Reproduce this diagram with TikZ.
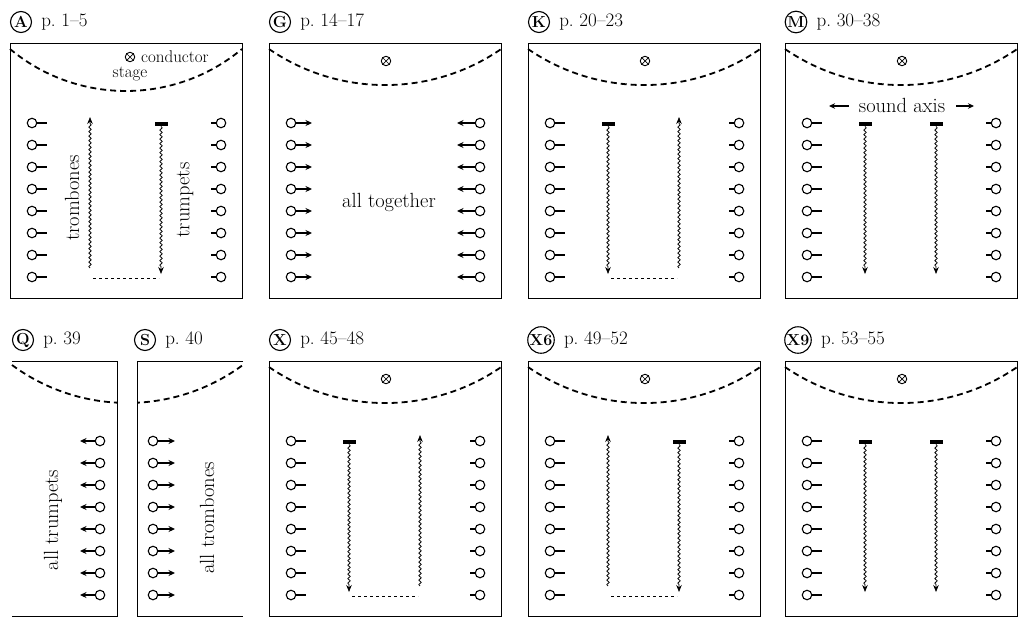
\documentclass[tikz,border=0pt]{standalone}
\usetikzlibrary{arrows.meta,decorations.pathmorphing}
\tikzset{
 boxframe/.style={line width=0.8pt},
 stagearc/.style={line width=1.8pt, dash pattern=on 6pt off 4pt},
 instc/.style={circle, draw, line width=1.1pt, minimum size=9.5pt, inner sep=0pt},
 inststick/.style={line width=1.6pt},
 ptr/.style={line width=1.6pt, -{Stealth[length=6.5pt,width=6pt]}},
 sndwave/.style={line width=0.75pt, decorate, decoration={snake, amplitude=1.2pt, segment length=4.5pt, post length=6pt}, -{Stealth[length=7pt,width=5.5pt]}},
 sndbar/.style={fill=black, minimum width=13pt, minimum height=4.5pt, inner sep=0pt},
 botdash/.style={line width=0.7pt, dash pattern=on 3pt off 3pt},
 txt/.style={font=\fontsize{20.5}{23}\selectfont, inner sep=0pt},
 smalltxt/.style={font=\fontsize{17}{19}\selectfont, inner sep=0pt},
 ttl/.style={font=\fontsize{19}{21}\selectfont, inner sep=0pt, anchor=west},
 badge/.style={circle, draw, line width=1.1pt, inner sep=0.5pt, minimum size=21pt, font=\bfseries\fontsize{16}{16}\selectfont},
 otimes/.style={circle, draw, line width=0.9pt, minimum size=9.5pt, inner sep=0pt},
 axisarr/.style={line width=1.2pt, -{Stealth[length=6pt,width=5.5pt]}},
}
\newcommand{\instcol}[4]{\foreach \k in {0,...,7}{\node[instc] (#1\k) at (#2,80+22*\k) {}; \coordinate (#1e\k) at (#3,80+22*\k); \draw[#4] (#1\k) -- (#1e\k);}}
\newcommand{\sndDown}[2]{\node[sndbar] (#1) at (#2,81) {}; \coordinate (#1t) at (#2,231); \draw[sndwave] (#1.south) -- (#1t);}
\newcommand{\sndUp}[2]{\coordinate (#1s) at (#2,225); \coordinate (#1t) at (#2,74); \draw[sndwave] (#1s) -- (#1t);}
\newcommand{\condsym}[3]{\node[otimes] (#1) at (#2,#3) {}; \draw[line width=0.7pt] (#1.north west) -- (#1.south east) (#1.north east) -- (#1.south west);}
\newcommand{\paneltitle}[4]{\node[badge] (#1-badge) at (#2,-21) {#3}; \node[ttl] (#1-page) at ([xshift=9pt]#1-badge.east) {#4};}
\newcommand{\botline}[1]{\coordinate (#1-da) at (83,235); \coordinate (#1-db) at (149,235); \draw[botdash] (#1-da) -- (#1-db);}
\newcommand{\stdpanel}{\draw[boxframe] (0,0) rectangle (232,255); \draw[stagearc] (0,6) arc[start angle=124.5, end angle=55.5, radius=205];}
\begin{document}
\begin{tikzpicture}[x=1pt,y=-1pt]
\useasboundingbox (0,0) rectangle (1019,619);
% ---------- A
\begin{scope}[shift={(10,43)}]
 \draw[boxframe] (0,0) rectangle (232,255);
 \draw[stagearc] (0,6) arc[start angle=129.8, end angle=50.2, radius=181.2];
 \paneltitle{A}{11}{A}{p.\ 1--5}
 \condsym{A-c}{120}{14}
 \node[smalltxt, anchor=west] (A-cond) at (131,14) {conductor};
 \node[smalltxt] (A-stage) at (120,31) {stage};
 \instcol{A-l}{22}{37}{inststick}
 \instcol{A-r}{211}{201}{inststick}
 \sndUp{A-up}{80}
 \sndDown{A-dn}{151}
 \botline{A}
 \node[txt, rotate=90] (A-tb) at (62,155) {trombones};
 \node[txt, rotate=90] (A-tp) at (175,157) {trumpets};
\end{scope}
% ---------- G
\begin{scope}[shift={(269,43)}]
 \stdpanel
 \paneltitle{G}{11}{G}{p.\ 14--17}
 \condsym{G-c}{117}{18}
 \instcol{G-l}{22}{43}{ptr}
 \instcol{G-r}{211}{188}{ptr}
 \node[txt] (G-all) at (120,159) {all together};
\end{scope}
% ---------- K
\begin{scope}[shift={(528,43)}]
 \stdpanel
 \paneltitle{K}{11}{K}{p.\ 20--23}
 \condsym{K-c}{117}{18}
 \instcol{K-l}{22}{37}{inststick}
 \instcol{K-r}{211}{201}{inststick}
 \sndDown{K-dn}{80}
 \sndUp{K-up}{151}
 \botline{K}
\end{scope}
% ---------- M
\begin{scope}[shift={(785,43)}]
 \stdpanel
 \paneltitle{M}{11}{M}{p.\ 30--38}
 \condsym{M-c}{117}{18}
 \node[txt] (M-sa) at (117,62) {sound axis};
 \coordinate (M-al) at (44,63); \coordinate (M-ar) at (189,63);
 \draw[axisarr] ([xshift=-10pt,yshift=-1pt]M-sa.west) -- (M-al);
 \draw[axisarr] ([xshift=11pt,yshift=-1pt]M-sa.east) -- (M-ar);
 \instcol{M-l}{22}{37}{inststick}
 \instcol{M-r}{211}{201}{inststick}
 \sndDown{M-d1}{80}
 \sndDown{M-d2}{151}
\end{scope}
% ---------- Q / S
\begin{scope}[shift={(12,361)}]
 \draw[boxframe] (0,0) -- (105,0) -- (105,255) -- (0,255);
 \draw[boxframe] (231,0) -- (125,0) -- (125,255) -- (231,255);
 \begin{scope}
  \clip (-3,-3) rectangle (105,60);
  \draw[stagearc] (0,4) arc[start angle=126.4, end angle=53.6, radius=194.5];
 \end{scope}
 \begin{scope}
  \clip (125,-3) rectangle (234,60);
  \draw[stagearc] (0,4) arc[start angle=126.4, end angle=53.6, radius=194.5];
 \end{scope}
 \paneltitle{Q}{11}{Q}{p.\ 39}
 \paneltitle{S}{133}{S}{p.\ 40}
 \instcol{Q-r}{88}{68}{ptr}
 \instcol{S-l}{141}{163}{ptr}
 \node[txt, rotate=90] (Q-t) at (41,159) {all trumpets};
 \node[txt, rotate=90] (S-t) at (195,157) {all trombones};
\end{scope}
% ---------- X
\begin{scope}[shift={(269,361)}]
 \stdpanel
 \paneltitle{X}{11}{X}{p.\ 45--48}
 \condsym{X-c}{117}{18}
 \instcol{X-l}{22}{37}{inststick}
 \instcol{X-r}{211}{201}{inststick}
 \sndDown{X-dn}{80}
 \sndUp{X-up}{151}
 \botline{X}
\end{scope}
% ---------- X6
\begin{scope}[shift={(528,361)}]
 \stdpanel
 \paneltitle{X6}{13}{X6}{p.\ 49--52}
 \condsym{X6-c}{117}{18}
 \instcol{X6-l}{22}{37}{inststick}
 \instcol{X6-r}{211}{201}{inststick}
 \sndUp{X6-up}{80}
 \sndDown{X6-dn}{151}
 \botline{X6}
\end{scope}
% ---------- X9
\begin{scope}[shift={(785,361)}]
 \stdpanel
 \paneltitle{X9}{13}{X9}{p.\ 53--55}
 \condsym{X9-c}{117}{18}
 \instcol{X9-l}{22}{37}{inststick}
 \instcol{X9-r}{211}{201}{inststick}
 \sndDown{X9-d1}{80}
 \sndDown{X9-d2}{151}
\end{scope}
\end{tikzpicture}
\end{document}
